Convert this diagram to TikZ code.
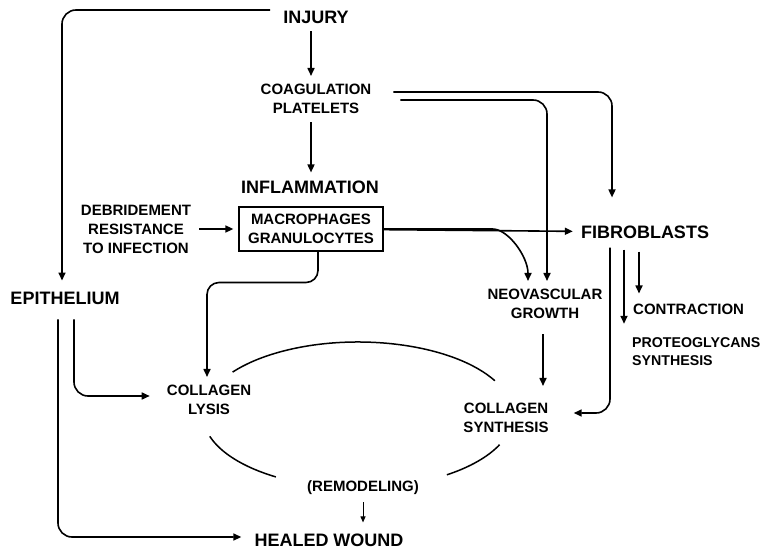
\documentclass[tikz,border=0pt]{standalone}
\usepackage{fontspec}
\setmainfont{Liberation Sans}
\usetikzlibrary{arrows.meta,calc}
\begin{document}
\begin{tikzpicture}[x=1pt, y=1pt, >={Triangle[length=8pt,width=7pt]},
    phase/.style={font=\bfseries\fontsize{18}{20}\selectfont, inner sep=3pt},
    agent/.style={font=\bfseries\fontsize{15}{19}\selectfont, align=center, inner sep=3pt},
    link/.style={->, line width=1.6pt, rounded corners=14pt, shorten >=5pt, shorten <=5pt}]
    \useasboundingbox (0,0) rectangle (765,552);

    \node[phase] (injury) at (316,535) {INJURY};
    \node[agent] (coag) at (316,453) {COAGULATION\\PLATELETS};
    \node[phase] (inflam) at (310,365) {INFLAMMATION};
    \node[agent, draw, line width=1.4pt, inner xsep=9pt, inner ysep=7pt] (cells) at (311,323) {MACROPHAGES\\GRANULOCYTES};
    \node[agent] (debride) at (136,323) {DEBRIDEMENT\\RESISTANCE\\TO INFECTION};
    \node[phase] (fibro) at (645,320) {FIBROBLASTS};
    \node[agent] (neovasc) at (545,248) {NEOVASCULAR\\GROWTH};
    \node[agent, anchor=west] (contraction) at (630,243) {CONTRACTION};
    \node[agent, align=left, anchor=west, font=\bfseries\fontsize{14.2}{18}\selectfont] (proteo) at (629,200) {PROTEOGLYCANS\\SYNTHESIS};
    \node[phase] (epith) at (65,254) {EPITHELIUM};
    \node[agent] (collysis) at (209,152) {COLLAGEN\\LYSIS};
    \node[agent] (colsyn) at (506,134) {COLLAGEN\\SYNTHESIS};
    \node[agent] (remodel) at (363,64) {(REMODELING)};
    \node[phase] (healed) at (329,12) {HEALED WOUND};
    \coordinate (cycle) at (358,137);

    \draw[link] ([xshift=-5]injury.south) -- ([xshift=-5]injury.south |- coag.north);
    \draw[link] ([xshift=-5]coag.south) -- ([xshift=-5]coag.south |- inflam.north);
    \draw[link] (debride) -- (cells);
    \draw[link, shorten <=0pt] (cells) -- (fibro);
    \draw[link, shorten <=0pt] (cells.east) -- ++(95,0) to[out=0,in=90] ([xshift=-17]neovasc.north);
    \draw[link, shorten <=0pt, shorten >=25pt] ([xshift=19,yshift=7]coag.east) -| ([xshift=-33]fibro.north);
    \draw[link, shorten <=0pt] ([xshift=26,yshift=-1]coag.east) -| ([xshift=2]neovasc.north);
    \draw[link, rounded corners=12pt, shorten <=0pt] ([xshift=7]cells.south) -- ++(0,-31) -| ([xshift=-2]collysis.north);
    \draw[link, shorten <=12pt, shorten >=14pt] ([xshift=-2]neovasc.south) -- ([xshift=-2]neovasc.south |- colsyn.north);
    \draw[link, shorten <=6pt, shorten >=22pt] ([xshift=-35]fibro.south) |- ([yshift=5]colsyn.east);
    \draw[link, shorten <=8pt, shorten >=11pt] ([xshift=-21]fibro.south) -- ([xshift=-21]fibro.south |- proteo.north);
    \draw[link, shorten <=10pt, shorten >=7pt] ([xshift=-6]fibro.south) -- ([xshift=-6]fibro.south |- contraction.north);
    \draw[link, shorten <=10pt, shorten >=8pt] ([yshift=7]injury.west) -| ([xshift=-3]epith.north);
    \draw[link, shorten <=12pt, shorten >=10pt] ([xshift=-7]epith.south) |- ([yshift=3]healed.west);
    \draw[link, shorten <=12pt, shorten >=14pt] ([xshift=9]epith.south) |- ([yshift=4]collysis.west);
    \draw[->, >={Triangle[length=6pt,width=5pt]}, line width=1pt, shorten <=4pt, shorten >=8pt] (remodel.south) -- (remodel.south |- healed.north);

    \draw[line width=1.5pt] ($(cycle)+(28:155 and 73)$) arc[start angle=28, end angle=144, x radius=155, y radius=73];
    \draw[line width=1.5pt] ($(cycle)+(197:155 and 73)$) arc[start angle=197, end angle=238, x radius=155, y radius=73];
    \draw[line width=1.5pt] ($(cycle)+(305:155 and 73)$) arc[start angle=305, end angle=336, x radius=155, y radius=73];
\end{tikzpicture}
\end{document}
